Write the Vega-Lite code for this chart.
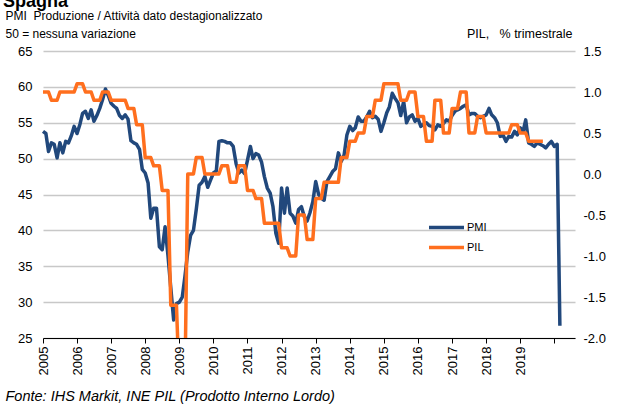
{
"$schema":"https://vega.github.io/schema/vega-lite/v6.json",
"width":532,"height":287,
"autosize":{"type":"none"},
"padding":{"left":43,"top":51,"right":53,"bottom":67},
"background":"white",
"config":{"view":{"stroke":null},"font":"Liberation Sans",
 "axis":{"labelFont":"Liberation Sans","titleFont":"Liberation Sans","labelColor":"#000","titleColor":"#000","labelFontSize":13,"titleFontSize":12,"titleFontWeight":"normal"},
 "legend":{"labelFont":"Liberation Sans"}},
"title":{"text":"Spagna","anchor":"start","fontSize":18,"fontWeight":"bold","font":"Liberation Sans","color":"#000","dx":-2,"dy":2,"offset":0},
"data":{"values":[
{"d":"2005-01","pmi":53.8,"pil":1.0},{"d":"2005-02","pmi":53.5,"pil":1.0},{"d":"2005-03","pmi":51.0,"pil":1.0},{"d":"2005-04","pmi":52.2,"pil":0.9},{"d":"2005-05","pmi":52.0,"pil":0.9},{"d":"2005-06","pmi":50.1,"pil":0.9},{"d":"2005-07","pmi":52.2,"pil":1.0},{"d":"2005-08","pmi":50.8,"pil":1.0},{"d":"2005-09","pmi":52.4,"pil":1.0},{"d":"2005-10","pmi":52.2,"pil":1.0},{"d":"2005-11","pmi":53.2,"pil":1.0},{"d":"2005-12","pmi":54.5,"pil":1.0},
{"d":"2006-01","pmi":53.5,"pil":1.1},{"d":"2006-02","pmi":54.8,"pil":1.1},{"d":"2006-03","pmi":56.3,"pil":1.1},{"d":"2006-04","pmi":56.6,"pil":1.0},{"d":"2006-05","pmi":55.6,"pil":1.0},{"d":"2006-06","pmi":56.8,"pil":1.0},{"d":"2006-07","pmi":55.2,"pil":0.9},{"d":"2006-08","pmi":56.0,"pil":0.9},{"d":"2006-09","pmi":57.0,"pil":0.9},{"d":"2006-10","pmi":58.2,"pil":1.0},{"d":"2006-11","pmi":59.7,"pil":1.0},{"d":"2006-12","pmi":58.8,"pil":1.0},
{"d":"2007-01","pmi":57.7,"pil":0.9},{"d":"2007-02","pmi":57.3,"pil":0.9},{"d":"2007-03","pmi":57.0,"pil":0.9},{"d":"2007-04","pmi":56.0,"pil":0.9},{"d":"2007-05","pmi":55.6,"pil":0.9},{"d":"2007-06","pmi":56.1,"pil":0.9},{"d":"2007-07","pmi":55.5,"pil":0.8},{"d":"2007-08","pmi":52.5,"pil":0.8},{"d":"2007-09","pmi":52.2,"pil":0.8},{"d":"2007-10","pmi":52.0,"pil":0.6},{"d":"2007-11","pmi":51.3,"pil":0.6},{"d":"2007-12","pmi":48.5,"pil":0.6},
{"d":"2008-01","pmi":48.0,"pil":0.2},{"d":"2008-02","pmi":46.6,"pil":0.2},{"d":"2008-03","pmi":41.7,"pil":0.2},{"d":"2008-04","pmi":43.1,"pil":0.1},{"d":"2008-05","pmi":43.1,"pil":0.1},{"d":"2008-06","pmi":37.7,"pil":0.1},{"d":"2008-07","pmi":37.3,"pil":-0.2},{"d":"2008-08","pmi":40.5,"pil":-0.2},{"d":"2008-09","pmi":36.5,"pil":-0.2},{"d":"2008-10","pmi":32.0,"pil":-1.6},{"d":"2008-11","pmi":27.5,"pil":-1.6},{"d":"2008-12","pmi":29.8,"pil":-1.6},
{"d":"2009-01","pmi":30.0,"pil":-2.6},{"d":"2009-02","pmi":30.7,"pil":-2.6},{"d":"2009-03","pmi":33.5,"pil":-2.6},{"d":"2009-04","pmi":37.0,"pil":0.0},{"d":"2009-05","pmi":39.3,"pil":0.0},{"d":"2009-06","pmi":40.0,"pil":0.0},{"d":"2009-07","pmi":42.9,"pil":0.2},{"d":"2009-08","pmi":46.3,"pil":0.2},{"d":"2009-09","pmi":46.7,"pil":0.2},{"d":"2009-10","pmi":47.5,"pil":0.0},{"d":"2009-11","pmi":46.0,"pil":0.0},{"d":"2009-12","pmi":47.0,"pil":0.0},
{"d":"2010-01","pmi":48.0,"pil":0.0},{"d":"2010-02","pmi":48.3,"pil":0.0},{"d":"2010-03","pmi":52.4,"pil":0.0},{"d":"2010-04","pmi":52.5,"pil":0.1},{"d":"2010-05","pmi":52.4,"pil":0.1},{"d":"2010-06","pmi":52.2,"pil":0.1},{"d":"2010-07","pmi":52.2,"pil":-0.1},{"d":"2010-08","pmi":51.7,"pil":-0.1},{"d":"2010-09","pmi":49.3,"pil":-0.1},{"d":"2010-10","pmi":48.0,"pil":0.1},{"d":"2010-11","pmi":48.4,"pil":0.1},{"d":"2010-12","pmi":47.9,"pil":0.1},
{"d":"2011-01","pmi":49.8,"pil":-0.2},{"d":"2011-02","pmi":51.7,"pil":-0.2},{"d":"2011-03","pmi":50.0,"pil":-0.2},{"d":"2011-04","pmi":50.7,"pil":-0.3},{"d":"2011-05","pmi":50.5,"pil":-0.3},{"d":"2011-06","pmi":49.5,"pil":-0.3},{"d":"2011-07","pmi":47.5,"pil":-0.6},{"d":"2011-08","pmi":45.9,"pil":-0.6},{"d":"2011-09","pmi":45.2,"pil":-0.6},{"d":"2011-10","pmi":43.3,"pil":-0.6},{"d":"2011-11","pmi":39.6,"pil":-0.6},{"d":"2011-12","pmi":38.2,"pil":-0.6},
{"d":"2012-01","pmi":45.9,"pil":-0.9},{"d":"2012-02","pmi":42.4,"pil":-0.9},{"d":"2012-03","pmi":45.9,"pil":-0.9},{"d":"2012-04","pmi":42.4,"pil":-1.0},{"d":"2012-05","pmi":42.0,"pil":-1.0},{"d":"2012-06","pmi":41.0,"pil":-1.0},{"d":"2012-07","pmi":42.9,"pil":-0.5},{"d":"2012-08","pmi":43.3,"pil":-0.5},{"d":"2012-09","pmi":41.9,"pil":-0.5},{"d":"2012-10","pmi":41.3,"pil":-0.8},{"d":"2012-11","pmi":42.5,"pil":-0.8},{"d":"2012-12","pmi":44.0,"pil":-0.8},
{"d":"2013-01","pmi":46.8,"pil":-0.3},{"d":"2013-02","pmi":45.0,"pil":-0.3},{"d":"2013-03","pmi":44.5,"pil":-0.3},{"d":"2013-04","pmi":44.2,"pil":-0.1},{"d":"2013-05","pmi":46.8,"pil":-0.1},{"d":"2013-06","pmi":47.5,"pil":-0.1},{"d":"2013-07","pmi":48.2,"pil":-0.1},{"d":"2013-08","pmi":48.6,"pil":-0.1},{"d":"2013-09","pmi":50.8,"pil":-0.1},{"d":"2013-10","pmi":49.6,"pil":0.2},{"d":"2013-11","pmi":50.5,"pil":0.2},{"d":"2013-12","pmi":53.3,"pil":0.2},
{"d":"2014-01","pmi":54.5,"pil":0.4},{"d":"2014-02","pmi":53.9,"pil":0.4},{"d":"2014-03","pmi":54.3,"pil":0.4},{"d":"2014-04","pmi":55.8,"pil":0.5},{"d":"2014-05","pmi":55.2,"pil":0.5},{"d":"2014-06","pmi":55.2,"pil":0.5},{"d":"2014-07","pmi":55.8,"pil":0.7},{"d":"2014-08","pmi":56.6,"pil":0.7},{"d":"2014-09","pmi":55.7,"pil":0.7},{"d":"2014-10","pmi":55.9,"pil":0.9},{"d":"2014-11","pmi":55.5,"pil":0.9},{"d":"2014-12","pmi":53.8,"pil":0.9},
{"d":"2015-01","pmi":55.0,"pil":1.1},{"d":"2015-02","pmi":56.4,"pil":1.1},{"d":"2015-03","pmi":57.2,"pil":1.1},{"d":"2015-04","pmi":59.1,"pil":1.1},{"d":"2015-05","pmi":58.4,"pil":1.1},{"d":"2015-06","pmi":57.8,"pil":1.1},{"d":"2015-07","pmi":56.0,"pil":0.9},{"d":"2015-08","pmi":58.0,"pil":0.9},{"d":"2015-09","pmi":55.0,"pil":0.9},{"d":"2015-10","pmi":55.8,"pil":1.0},{"d":"2015-11","pmi":56.1,"pil":1.0},{"d":"2015-12","pmi":55.2,"pil":1.0},
{"d":"2016-01","pmi":55.6,"pil":0.7},{"d":"2016-02","pmi":54.5,"pil":0.7},{"d":"2016-03","pmi":54.8,"pil":0.7},{"d":"2016-04","pmi":55.0,"pil":0.4},{"d":"2016-05","pmi":54.6,"pil":0.4},{"d":"2016-06","pmi":54.5,"pil":0.4},{"d":"2016-07","pmi":54.0,"pil":0.9},{"d":"2016-08","pmi":54.7,"pil":0.9},{"d":"2016-09","pmi":54.5,"pil":0.9},{"d":"2016-10","pmi":54.9,"pil":0.5},{"d":"2016-11","pmi":55.4,"pil":0.5},{"d":"2016-12","pmi":55.2,"pil":0.5},
{"d":"2017-01","pmi":56.0,"pil":0.8},{"d":"2017-02","pmi":56.6,"pil":0.8},{"d":"2017-03","pmi":56.8,"pil":0.8},{"d":"2017-04","pmi":57.0,"pil":1.0},{"d":"2017-05","pmi":57.3,"pil":1.0},{"d":"2017-06","pmi":57.5,"pil":1.0},{"d":"2017-07","pmi":56.1,"pil":0.5},{"d":"2017-08","pmi":56.3,"pil":0.5},{"d":"2017-09","pmi":56.3,"pil":0.5},{"d":"2017-10","pmi":55.9,"pil":0.7},{"d":"2017-11","pmi":55.7,"pil":0.7},{"d":"2017-12","pmi":55.9,"pil":0.7},
{"d":"2018-01","pmi":56.1,"pil":0.5},{"d":"2018-02","pmi":57.0,"pil":0.5},{"d":"2018-03","pmi":56.1,"pil":0.5},{"d":"2018-04","pmi":55.7,"pil":0.5},{"d":"2018-05","pmi":55.0,"pil":0.5},{"d":"2018-06","pmi":53.1,"pil":0.5},{"d":"2018-07","pmi":53.3,"pil":0.5},{"d":"2018-08","pmi":52.4,"pil":0.5},{"d":"2018-09","pmi":53.1,"pil":0.5},{"d":"2018-10","pmi":53.0,"pil":0.6},{"d":"2018-11","pmi":53.8,"pil":0.6},{"d":"2018-12","pmi":53.3,"pil":0.6},
{"d":"2019-01","pmi":54.3,"pil":0.5},{"d":"2019-02","pmi":53.8,"pil":0.5},{"d":"2019-03","pmi":55.4,"pil":0.5},{"d":"2019-04","pmi":52.2,"pil":0.4},{"d":"2019-05","pmi":52.0,"pil":0.4},{"d":"2019-06","pmi":51.7,"pil":0.4},{"d":"2019-07","pmi":52.2,"pil":0.4},{"d":"2019-08","pmi":52.0,"pil":0.4},{"d":"2019-09","pmi":51.8,"pil":0.4},{"d":"2019-10","pmi":51.5,"pil":null},{"d":"2019-11","pmi":52.0,"pil":null},{"d":"2019-12","pmi":52.4,"pil":null},
{"d":"2020-01","pmi":51.7,"pil":null},{"d":"2020-02","pmi":52.0,"pil":null},{"d":"2020-03","pmi":26.7,"pil":null}
]},
"encoding":{
 "x":{"field":"d","type":"temporal","scale":{"type":"utc","domain":[{"year":2005,"month":1,"date":1,"utc":true},{"year":2020,"month":8,"date":10,"utc":true}]},
  "axis":{"values":[{"year":2005,"month":1,"date":1,"utc":true},{"year":2006,"month":1,"date":1,"utc":true},{"year":2007,"month":1,"date":1,"utc":true},{"year":2008,"month":1,"date":1,"utc":true},{"year":2009,"month":1,"date":1,"utc":true},{"year":2010,"month":1,"date":1,"utc":true},{"year":2011,"month":1,"date":1,"utc":true},{"year":2012,"month":1,"date":1,"utc":true},{"year":2013,"month":1,"date":1,"utc":true},{"year":2014,"month":1,"date":1,"utc":true},{"year":2015,"month":1,"date":1,"utc":true},{"year":2016,"month":1,"date":1,"utc":true},{"year":2017,"month":1,"date":1,"utc":true},{"year":2018,"month":1,"date":1,"utc":true},{"year":2019,"month":1,"date":1,"utc":true},{"year":2020,"month":1,"date":1,"utc":true}],
   "labelExpr":"utcyear(datum.value) < 2020 ? utcFormat(datum.value, '%Y') : ''",
   "labelAngle":270,"labelAlign":"right","labelBaseline":"middle","labelPadding":3,"labelFlush":false,"labelOverlap":false,
   "grid":false,"domainColor":"#000","domainWidth":1.2,"tickColor":"#000","tickSize":5,
   "title":"Fonte: IHS Markit, INE PIL (Prodotto Interno Lordo)","titleFontSize":14.5,"titleFontStyle":"italic","titleAngle":0,"titleAlign":"left","titleBaseline":"alphabetic","titleX":-38,"titleY":62}}
},
"layer":[
 {"mark":{"type":"line","strokeWidth":3.5,"strokeJoin":"round"},
  "encoding":{
   "y":{"field":"pmi","type":"quantitative","scale":{"domain":[25,65],"nice":false,"zero":false},
    "axis":{"values":[25,30,35,40,45,50,55,60,65],"grid":true,"gridColor":"#c8c8c8","gridWidth":1.5,"ticks":false,"domain":false,"labelPadding":11,
     "title":["PMI\u00a0 Produzione / Attività dato destagionalizzato","50 = nessuna variazione"],"titleAngle":0,"titleAlign":"left","titleBaseline":"alphabetic","titleX":-38,"titleY":-32,"titleLineHeight":18}},
   "color":{"datum":"PMI","type":"nominal","scale":{"domain":["PMI"],"range":["#21487C"]},
    "legend":{"orient":"none","legendX":384,"legendY":157,"title":null,"symbolType":"stroke","symbolSize":1225,"symbolStrokeWidth":3.5,"labelFontSize":11,"labelOffset":1,"labelColor":"#000"}}}},
 {"mark":{"type":"line","strokeWidth":3.5,"strokeJoin":"round","clip":true},
  "encoding":{
   "y":{"field":"pil","type":"quantitative","scale":{"domain":[-2,1.5],"nice":false,"zero":false},
    "axis":{"orient":"right","values":[-2,-1.5,-1,-0.5,0,0.5,1,1.5],"grid":false,"ticks":false,"domain":false,"labelPadding":8,
     "labelExpr":"replace(format(datum.value, '.1f'), '\u2212', '-')",
     "title":"PIL,\u00a0\u00a0 % trimestrale","titleFontSize":12.5,"titleAngle":0,"titleAlign":"right","titleBaseline":"alphabetic","titleX":-3,"titleY":-14}},
   "color":{"datum":"PIL","type":"nominal","scale":{"domain":["PIL"],"range":["#FF6F1E"]},
    "legend":{"orient":"none","legendX":384,"legendY":177,"title":null,"symbolType":"stroke","symbolSize":1225,"symbolStrokeWidth":3.5,"labelFontSize":11,"labelOffset":1,"labelColor":"#000"}}}}
],
"resolve":{"scale":{"y":"independent","color":"independent"}}
}
